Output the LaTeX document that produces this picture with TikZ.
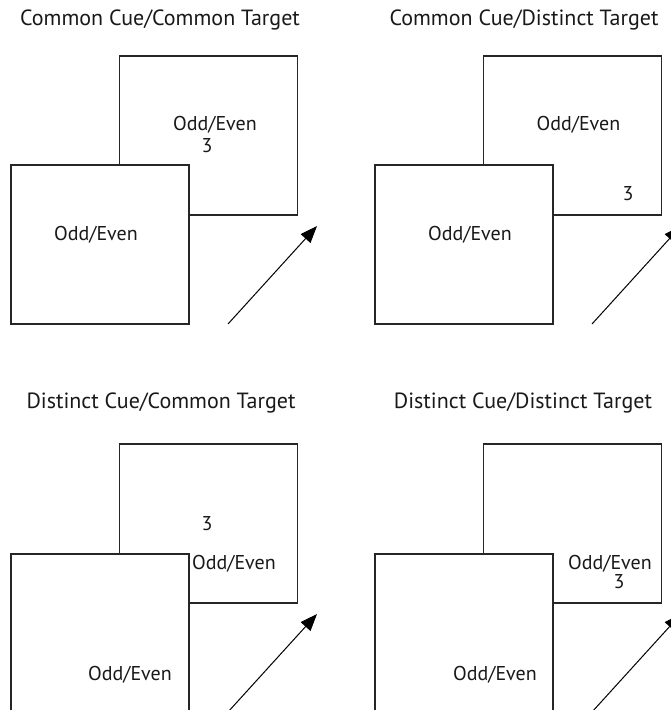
\documentclass[tikz,border=0pt]{standalone}
\usepackage{fontspec}
\setmainfont{PT Sans}
\usetikzlibrary{arrows.meta}
\begin{document}
\begin{tikzpicture}[x=1pt,y=-1pt,
  card/.style={draw=black!85,line width=1.2pt,fill=white},
  lbl/.style={inner sep=0pt,font=\fontsize{20}{23}\selectfont,text=black!90},
  ttl/.style={inner sep=0pt,font=\fontsize{22}{25}\selectfont,text=black!90},
  arr/.style={draw=black,line width=1pt,-{Triangle[length=17pt,width=13pt]}}]
\useasboundingbox (0,0) rectangle (671,710);
\clip (0,0) rectangle (671,710);
% Panel 1
\node[ttl] (t1) at (160,20) {Common Cue/Common Target};
\draw[card] (119.5,56) rectangle (297.5,215);
\node[lbl] (b1) at (215,125) {Odd/Even};
\node[lbl] (n1) at (207,146) {3};
\draw[card] (11,165) rectangle (189,324);
\node[lbl] (f1) at (96,235) {Odd/Even};
\coordinate (a1s) at (228,324); \coordinate (a1e) at (317,226);
\draw[arr] (a1s) -- (a1e);
% Panel 2
\node[ttl] (t2) at (524,20) {Common Cue/Distinct Target};
\draw[card] (483.5,56) rectangle (661.5,215);
\node[lbl] (b2) at (578.5,125) {Odd/Even};
\node[lbl] (n2) at (628,194) {3};
\draw[card] (375,165) rectangle (553,324);
\node[lbl] (f2) at (470,235) {Odd/Even};
\coordinate (a2s) at (592,324); \coordinate (a2e) at (681,226);
\draw[arr] (a2s) -- (a2e);
% Panel 3
\node[ttl] (t3) at (161,403) {Distinct Cue/Common Target};
\draw[card] (119.5,444) rectangle (297.5,603);
\node[lbl] (n3) at (207,524) {3};
\node[lbl] (b3) at (234,564) {Odd/Even};
\draw[card] (11,554) rectangle (189,713);
\node[lbl] (f3) at (130,675) {Odd/Even};
\coordinate (a3s) at (228,712); \coordinate (a3e) at (317,614);
\draw[arr] (a3s) -- (a3e);
% Panel 4
\node[ttl] (t4) at (523,403) {Distinct Cue/Distinct Target};
\draw[card] (483.5,444) rectangle (661.5,603);
\node[lbl] (b4) at (610,564) {Odd/Even};
\node[lbl] (n4) at (619,582) {3};
\draw[card] (375,554) rectangle (553,713);
\node[lbl] (f4) at (495,675) {Odd/Even};
\coordinate (a4s) at (592,712); \coordinate (a4e) at (681,614);
\draw[arr] (a4s) -- (a4e);
\end{tikzpicture}
\end{document}
